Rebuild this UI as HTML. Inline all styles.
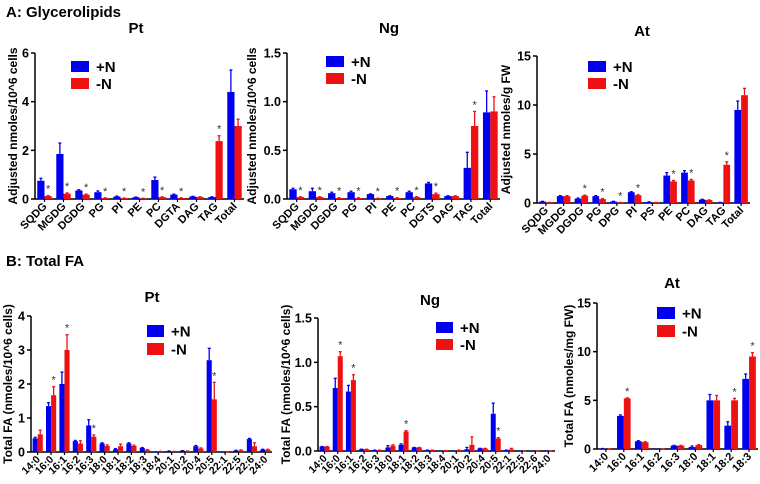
<!DOCTYPE html>
<html><head><meta charset="utf-8"><style>
html,body{margin:0;padding:0;background:#fff}
svg{display:block;font-family:"Liberation Sans",Arial,sans-serif;font-weight:bold}
</style></head><body>
<svg id="fig" width="760" height="484" viewBox="0 0 760 484" xmlns="http://www.w3.org/2000/svg">
<text x="6" y="17" font-size="15">A: Glycerolipids</text>
<text x="6" y="266" font-size="15">B: Total FA</text>
</svg>
<script>
// ---- Data ----
const aPtCats = ["SQDG","MGDG","DGDG","PG","PI","PE","PC","DGTA","DAG","TAG","Total"];
const aPtPlus = [0.75,1.85,0.35,0.28,0.1,0.07,0.78,0.18,0.1,0.08,4.4];
const aPtMinus = [0.12,0.22,0.18,0.04,0.03,0.02,0.08,0.04,0.08,2.38,3.0];
const aPtPlusErr = [0.1,0.45,0.03,0.05,0.02,0.01,0.12,0.02,0.01,0.01,0.9];
const aPtMinusErr = [0.02,0.03,0.02,0.01,0.01,0.01,0.01,0.01,0.01,0.22,0.28];
const aPtStars = [1,1,1,1,1,1,1,1,0,1,0];
const aPtTicks = [0,2,4,6];

const aNgCats = ["SQDG","MGDG","DGDG","PG","PI","PE","PC","DGTS","DAG","TAG","Total"];
const aNgPlus = [0.1,0.08,0.06,0.07,0.05,0.03,0.07,0.16,0.03,0.32,0.89];
const aNgMinus = [0.02,0.02,0.01,0.01,0.005,0.01,0.02,0.05,0.03,0.75,0.9];
const aNgPlusErr = [0.01,0.03,0.01,0.01,0.003,0.003,0.01,0.01,0.003,0.16,0.22];
const aNgMinusErr = [0.003,0.003,0.003,0.003,0.003,0.003,0.003,0.01,0.003,0.15,0.15];
const aNgStars = [1,1,1,1,1,1,1,1,0,1,0];
const aNgTicks = [0,0.5,1.0,1.5];

const aAtCats = ["SQDG","MGDG","DGDG","PG","DPG","PI","PS","PE","PC","DAG","TAG","Total"];
const aAtPlus = [0.15,0.7,0.45,0.7,0.15,1.1,0.1,2.8,3.1,0.35,0.05,9.5];
const aAtMinus = [0.05,0.7,0.75,0.4,0.05,0.8,0.05,2.2,2.3,0.3,3.9,11.0];
const aAtPlusErr = [0.02,0.05,0.05,0.05,0.02,0.05,0.02,0.3,0.2,0.03,0.01,0.9];
const aAtMinusErr = [0.01,0.05,0.05,0.05,0.01,0.05,0.01,0.1,0.1,0.02,0.3,0.7];
const aAtStars = [0,0,1,1,1,1,0,1,1,0,1,0];
const aAtTicks = [0,5,10,15];

const bPtCats = ["14:0","16:0","16:1","16:2","16:3","18:0","18:1","18:2","18:3","18:4","20:1","20:2","20:4","20:5","22:1","22:5","22:6","24:0"];
const bPtPlus = [0.4,1.35,2.0,0.32,0.78,0.25,0.08,0.25,0.12,0,0.03,0.04,0.17,2.7,0,0.04,0.38,0.07];
const bPtMinus = [0.52,1.67,3.0,0.25,0.45,0.18,0.17,0.18,0.06,0.02,0.02,0.03,0.1,1.55,0,0.05,0.17,0.07];
const bPtPlusErr = [0.03,0.1,0.35,0.02,0.17,0.02,0.02,0.02,0.01,0,0,0,0.02,0.35,0,0.01,0.02,0.01];
const bPtMinusErr = [0.12,0.25,0.45,0.08,0.05,0.03,0.06,0.02,0.01,0,0,0,0.02,0.5,0,0.01,0.1,0.01];
const bPtStars = [0,1,1,0,1,0,0,0,0,0,0,0,0,1,0,0,0,0];
const bPtTicks = [0,1,2,3,4];

const bNgCats = ["14:0","16:0","16:1","16:2","16:3","18:0","18:1","18:2","18:3","18:4","20:1","20:2","20:4","20:5","22:1","22:5","22:6","24:0"];
const bNgPlus = [0.05,0.71,0.67,0.02,0.01,0.04,0.07,0.04,0.01,0,0,0.02,0.03,0.42,0.01,0,0,0];
const bNgMinus = [0.05,1.07,0.8,0.02,0.01,0.06,0.22,0.04,0.01,0.005,0.01,0.07,0.03,0.14,0.02,0,0,0];
const bNgPlusErr = [0,0.11,0.07,0,0,0.02,0.01,0,0,0,0,0.02,0,0.12,0,0,0,0];
const bNgMinusErr = [0,0.05,0.06,0,0,0.01,0.01,0,0,0,0,0.09,0,0.01,0.01,0,0,0];
const bNgStars = [0,1,1,0,0,0,1,0,0,0,0,0,0,1,0,0,0,0];
const bNgTicks = [0,0.5,1.0,1.5];

const bAtCats = ["14:0","16:0","16:1","16:2","16:3","18:0","18:1","18:2","18:3"];
const bAtPlus = [0.05,3.4,0.8,0,0.35,0.2,5.0,2.4,7.2];
const bAtMinus = [0,5.2,0.7,0,0.35,0.4,5.0,5.0,9.5];
const bAtPlusErr = [0,0.1,0.05,0,0.02,0.1,0.6,0.4,0.5];
const bAtMinusErr = [0,0.05,0.05,0,0.02,0.05,0.5,0.2,0.4];
const bAtStars = [0,1,0,0,0,0,0,1,1];
const bAtTicks = [0,5,10,15];

const NS = "http://www.w3.org/2000/svg";
const svg = document.getElementById("fig");
function mk(tag, attrs, parent, txt){
  const e = document.createElementNS(NS, tag);
  for (const k in attrs) e.setAttribute(k, attrs[k]);
  if (txt !== undefined) e.textContent = txt;
  (parent || svg).appendChild(e);
  return e;
}

function panel(id, cfg, cats, plus, minus, pErr, mErr, stars, ticks){
  const g = mk("g", {});
  
  
  const {x0, x1, yTop, yBot, title, tx, ty, ytitle, ytx, leg, fmt, lblSize} = cfg;
  const maxV = ticks[ticks.length - 1];
  const yS = v => yBot - (v / maxV) * (yBot - yTop);
  const step = (x1 - x0) / cats.length;
  const xC = i => x0 + step * (i + 0.5);
  const bw = step * 0.38;
  const t = mk("text", {x: tx, y: ty, "font-size": 15, "text-anchor": "middle"}, g, title);
  
  
  const yt = mk("text", {x: 0, y: 0, "font-size": 12, "text-anchor": "middle", transform: `translate(${ytx},${(yTop + yBot) / 2}) rotate(-90)`}, g, ytitle);
  
  
  mk("line", {x1: x0, y1: yTop, x2: x0, y2: yBot, stroke: "#000", "stroke-width": 1.5}, g);
  mk("line", {x1: x0, y1: yBot, x2: x1, y2: yBot, stroke: "#000", "stroke-width": 1.5}, g);
  ticks.forEach(v => {
    const y = yS(v);
    mk("line", {x1: x0 - 4, y1: y, x2: x0, y2: y, stroke: "#000", "stroke-width": 1.5}, g);
    const tl = mk("text", {x: x0 - 6, y: y + 4.5, "font-size": 12.5, "text-anchor": "end"}, g, fmt(v));
    
    
  });
  cats.forEach((c, i) => {
    const cx = xC(i);
    mk("line", {x1: cx, y1: yBot, x2: cx, y2: yBot + 3, stroke: "#000", "stroke-width": 1.2}, g);
    const cl = mk("text", {x: 0, y: 0, "font-size": lblSize, "text-anchor": "end", transform: `translate(${cx + 3},${yBot + 8}) rotate(-45)`}, g, c);
    
    
    [[plus[i], pErr[i], "#0000ee", cx - bw, "plus-n"], [minus[i], mErr[i], "#ee1111", cx, "minus-n"]].forEach(([v, e, col, bx, nm]) => {
      const top = yS(v + e);
      mk("line", {x1: bx + bw / 2, y1: yS(v), x2: bx + bw / 2, y2: top, stroke: col, "stroke-width": 1.3}, g);
      mk("line", {x1: bx + bw / 2 - 1.5, y1: top, x2: bx + bw / 2 + 1.5, y2: top, stroke: col, "stroke-width": 1.3}, g);
      const r = mk("rect", {x: bx, y: yS(v), width: bw, height: Math.max(0, yBot - yS(v)), fill: col}, g);
      
      
    });
    if (stars[i]) {
      const st = mk("text", {x: cx + bw / 2, y: yS(minus[i] + mErr[i]) - 3, "font-size": 11, "font-weight": "normal", "text-anchor": "middle", fill: "#333"}, g, "*");
      
      
    }
  });
  const [lx, ly, lw, lh, gap] = leg;
  [["#0000ee", "+N", 0], ["#ee1111", "-N", 1]].forEach(([col, lab, k]) => {
    const y = ly + k * gap;
    const lr = mk("rect", {x: lx, y: y, width: lw, height: lh, fill: col}, g);
    
    
    const lt = mk("text", {x: lx + lw + 7, y: y + lh / 2 + 5.5, "font-size": 15}, g, lab);
    
    
  });
}
const f1 = v => String(v);
const f2 = v => v.toFixed(1);

panel("a-pt", {x0:35,x1:244,yTop:53,yBot:199,title:"Pt",tx:136,ty:33,ytitle:"Adjusted nmoles/10^6 cells",ytx:17,leg:[71,61,18,11,17],fmt:f1,lblSize:11},
  aPtCats,aPtPlus,aPtMinus,aPtPlusErr,aPtMinusErr,aPtStars,aPtTicks);
panel("a-ng", {x0:287,x1:500,yTop:53,yBot:199,title:"Ng",tx:389,ty:33,ytitle:"Adjusted nmoles/10^6 cells",ytx:256,leg:[326,56,18,11,17],fmt:f2,lblSize:11},
  aNgCats,aNgPlus,aNgMinus,aNgPlusErr,aNgMinusErr,aNgStars,aNgTicks);
panel("a-at", {x0:537,x1:750,yTop:56,yBot:203,title:"At",tx:642,ty:36,ytitle:"Adjusted nmoles/g FW",ytx:510,leg:[588,61,18,11,17],fmt:f1,lblSize:11},
  aAtCats,aAtPlus,aAtMinus,aAtPlusErr,aAtMinusErr,aAtStars,aAtTicks);
panel("b-pt", {x0:31,x1:272,yTop:316,yBot:452,title:"Pt",tx:152,ty:302,ytitle:"Total FA (nmoles/10^6 cells)",ytx:12,leg:[147,325,17,12,18],fmt:f1,lblSize:10.5},
  bPtCats,bPtPlus,bPtMinus,bPtPlusErr,bPtMinusErr,bPtStars,bPtTicks);
panel("b-ng", {x0:318,x1:555,yTop:318,yBot:451,title:"Ng",tx:430,ty:305,ytitle:"Total FA (nmoles/10^6 cells)",ytx:290,leg:[436,322,17,11,17],fmt:f2,lblSize:10.5},
  bNgCats,bNgPlus,bNgMinus,bNgPlusErr,bNgMinusErr,bNgStars,bNgTicks);
panel("b-at", {x0:597,x1:758,yTop:303,yBot:449,title:"At",tx:672,ty:288,ytitle:"Total FA (nmoles/mg FW)",ytx:573,leg:[657,307,18,12,18],fmt:f1,lblSize:11},
  bAtCats,bAtPlus,bAtMinus,bAtPlusErr,bAtMinusErr,bAtStars,bAtTicks);
</script>
</body></html>
